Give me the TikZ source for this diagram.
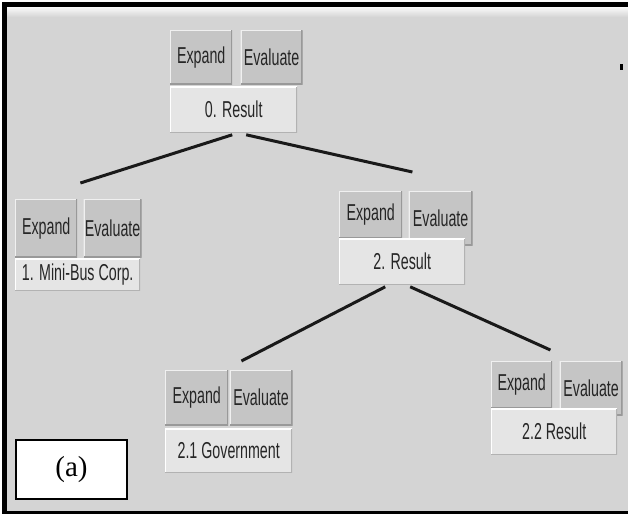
\documentclass[tikz,border=0pt]{standalone}
\usepackage{fontspec}
\usepackage{graphicx}
\usetikzlibrary{positioning}
\newfontfamily\guifont{Liberation Sans}
\newfontfamily\capfont{Liberation Serif}
\newcommand{\narrow}[1]{\scalebox{0.62}[1]{#1}}
\definecolor{panelgray}{RGB}{212,212,212}
\definecolor{buttongray}{RGB}{197,197,197}
\definecolor{resultgray}{RGB}{229,229,229}

\begin{document}
\begin{tikzpicture}[x=1pt, y=-1pt]
    \tikzset{button/.style = {shape=rectangle, fill=buttongray, inner sep=0pt,
        minimum width=62pt, minimum height=54pt, text=black!85,
        font=\guifont\fontsize{23}{26}\selectfont,
        path picture={
            \draw[white!75!buttongray, line width=2.4pt] (path picture bounding box.south west)
                -- (path picture bounding box.north west) -- (path picture bounding box.north east);
            \draw[black!40, line width=2.4pt] (path picture bounding box.north east)
                -- (path picture bounding box.south east) -- (path picture bounding box.south west);
        }}}
    \tikzset{result/.style = {shape=rectangle, fill=resultgray, inner sep=0pt,
        minimum width=127pt, minimum height=46pt, text=black!85,
        font=\guifont\fontsize{23}{26}\selectfont,
        path picture={
            \draw[white, line width=2.4pt] (path picture bounding box.south west)
                -- (path picture bounding box.north west) -- (path picture bounding box.north east);
            \draw[black!30, line width=2pt] (path picture bounding box.north east)
                -- (path picture bounding box.south east) -- (path picture bounding box.south west);
        }}}
    \tikzset{branch/.style = {line width=3pt, color=black!90}}

    % panel and frame
    \useasboundingbox (0,0) rectangle (628,514);
    \fill[white] (0,0) rectangle (628,514);
    \fill[panelgray] (7,7) rectangle (628,510.5);
    \shade[top color=white!90!panelgray, bottom color=panelgray] (7,7) rectangle (628,17);
    \fill[black] (2,2) rectangle (628,7);
    \fill[black] (2,2) rectangle (7,514);
    \fill[black] (2,510.5) rectangle (628,514);
    \fill[black] (620,64) rectangle (622.5,70);

    % 0. Result
    \node[button, anchor=north west] (exp0) at (170,30) {\narrow{Expand}};
    \node[button, right=8pt of exp0.north east, anchor=north west] (eva0) {\narrow{Evaluate}};
    \node[result, anchor=north west] (res0) at ([yshift=-2pt]exp0.south west) {\narrow{0. Result}};

    % 1. Mini-Bus Corp.
    \node[button, minimum height=58pt, anchor=north west] (exp1) at (15,199) {\narrow{Expand}};
    \node[button, minimum width=58pt, minimum height=58pt, right=6pt of exp1.north east, anchor=north west] (eva1) {\narrow{Evaluate}};
    \node[result, minimum width=125pt, minimum height=32pt, anchor=north west] (res1) at ([yshift=-1pt]exp1.south west) {\narrow{1. Mini-Bus Corp.}};

    % 2. Result
    \node[button, minimum width=63pt, minimum height=47pt, anchor=north west] (exp2) at (339,191) {\narrow{Expand}};
    \node[button, minimum width=64pt, right=6pt of exp2.north east, anchor=north west] (eva2) {\narrow{Evaluate}};
    \node[result, minimum width=126pt, anchor=north west] (res2) at (exp2.south west) {\narrow{2. Result}};

    % 2.1 Government
    \node[button, minimum width=63pt, minimum height=55pt, anchor=north west] (exp21) at (165,370) {\narrow{Expand}};
    \node[button, minimum width=63pt, minimum height=55pt, right=1pt of exp21.north east, anchor=north west] (eva21) {\narrow{Evaluate}};
    \node[result, minimum height=44pt, anchor=north west] (res21) at ([yshift=-3pt]exp21.south west) {\narrow{2.1 Government}};

    % 2.2 Result
    \node[button, minimum width=61pt, minimum height=47pt, anchor=north west] (exp22) at (491,361) {\narrow{Expand}};
    \node[button, minimum width=63pt, right=7pt of exp22.north east, anchor=north west] (eva22) {\narrow{Evaluate}};
    \node[result, minimum width=126pt, anchor=north west] (res22) at (exp22.south west) {\narrow{2.2 Result}};

    % label box
    \node[draw, fill=white, line width=1.2pt, minimum width=111pt, minimum height=59pt,
        font=\capfont\fontsize{29}{32}\selectfont] (label) at (71.5,469.5) {(a)};

    % branch ends
    \coordinate (t1) at ([xshift=3pt, yshift=16pt]exp1.north east);
    \coordinate (t2) at ([xshift=10pt, yshift=19pt]exp2.north east);
    \coordinate (t21) at ([xshift=13pt, yshift=9pt]exp21.north east);
    \coordinate (t22) at ([xshift=-2pt, yshift=11pt]exp22.north east);

    \draw[branch] ([xshift=-1.5pt, yshift=-2pt]res0.south) -- (t1);
    \draw[branch] ([xshift=12.5pt, yshift=-2pt]res0.south) -- (t2);
    \draw[branch] ([xshift=-17pt, yshift=-2pt]res2.south) -- (t21);
    \draw[branch] ([xshift=8pt, yshift=-2pt]res2.south) -- (t22);
\end{tikzpicture}
\end{document}
